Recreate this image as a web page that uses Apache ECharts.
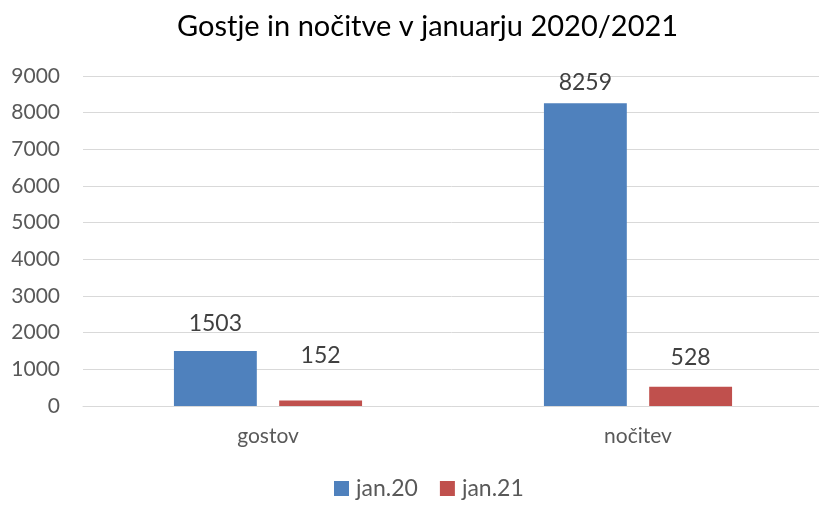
<!DOCTYPE html>
<html><head><meta charset="utf-8">
<script src="https://cdn.jsdelivr.net/npm/echarts@6/dist/echarts.min.js"></script>
<style>html,body{margin:0;padding:0;background:#fff}#c{width:819px;height:505px}</style>
</head><body><div id="c"></div>
<script>
const categories = ['gostov', 'nočitev'];
const jan20 = [1503, 8259];
const jan21 = [152, 528];
const seriesNames = ['jan.20', 'jan.21'];
const FONT = 'Lato, "Open Sans", sans-serif';
// label offsets above each bar (style, not data)
const labelGap20 = [16, 9];
const labelGap21 = [33, 18];
const labelBase = {show: true, position: 'top', distance: 14, fontFamily: FONT, fontSize: 23, color: '#404040'};
const withGap = (vals, gaps) => vals.map((v, i) => ({value: v, label: {distance: gaps[i]}}));
const chart = echarts.init(document.getElementById('c'));
chart.setOption({
  animation: false,
  title: {text: 'Gostje in nočitve v januarju 2020/2021', left: 172, top: 7,
    textStyle: {fontFamily: FONT, fontSize: 29, fontWeight: 'normal', color: '#000'}},
  grid: {left: 83, top: 76, width: 740, bottom: 99, containLabel: false, outerBoundsMode: 'none'},
  legend: {bottom: 0, left: 329, itemWidth: 15, itemHeight: 15, itemGap: 22, icon: 'rect',
    textStyle: {fontFamily: FONT, fontSize: 23, color: '#595959', padding: [0, 0, 0, 2]}},
  xAxis: {type: 'category', data: categories,
    axisLine: {lineStyle: {color: '#d9d9d9'}}, axisTick: {show: false},
    axisLabel: {fontFamily: FONT, fontSize: 21, color: '#595959', margin: 20}},
  yAxis: {type: 'value', min: 0, max: 9000, interval: 1000,
    axisLine: {show: false}, axisTick: {show: false},
    splitLine: {lineStyle: {color: '#d9d9d9', width: 1}},
    axisLabel: {fontFamily: FONT, fontSize: 21, color: '#595959', margin: 23, formatter: v => String(v)}},
  series: [
    {name: seriesNames[0], type: 'bar', data: withGap(jan20, labelGap20), barWidth: '22.4%', barGap: '27%',
      itemStyle: {color: '#4F81BD'}, label: labelBase},
    {name: seriesNames[1], type: 'bar', data: withGap(jan21, labelGap21), barWidth: '22.4%',
      itemStyle: {color: '#C0504D'}, label: labelBase}
  ]
});
</script></body></html>
